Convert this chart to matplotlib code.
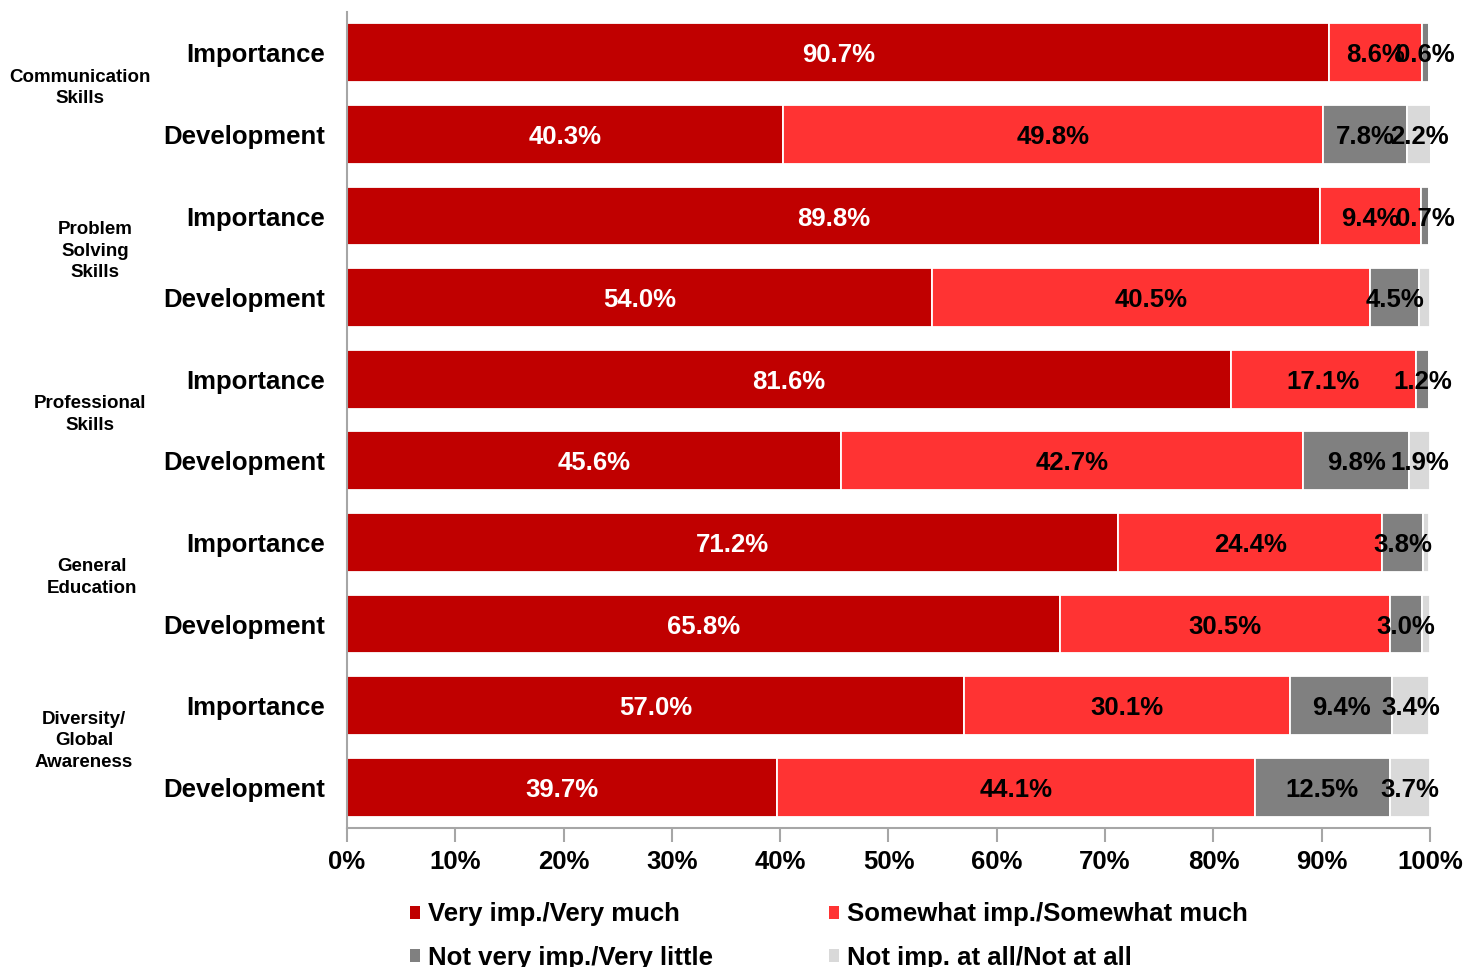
import numpy as np
import matplotlib.pyplot as plt
from matplotlib.patches import Patch
from matplotlib.transforms import blended_transform_factory

plt.rcParams['font.family'] = ['Liberation Sans', 'DejaVu Sans']
plt.rcParams['font.weight'] = 'bold'

groups = ["Communication\nSkills", "Problem\nSolving\nSkills", "Professional\nSkills",
          "General\nEducation", "Diversity/\nGlobal\nAwareness"]
rows = ["Importance", "Development"] * 5

very = [90.7, 40.3, 89.8, 54.0, 81.6, 45.6, 71.2, 65.8, 57.0, 39.7]
somewhat = [8.6, 49.8, 9.4, 40.5, 17.1, 42.7, 24.4, 30.5, 30.1, 44.1]
little = [0.6, 7.8, 0.7, 4.5, 1.2, 9.8, 3.8, 3.0, 9.4, 12.5]
not_at_all = [0.1, 2.2, 0.1, 1.0, 0.1, 1.9, 0.5, 0.7, 3.4, 3.7]

series = [
    ("Very imp./Very much", very, "#C00000", "white"),
    ("Somewhat imp./Somewhat much", somewhat, "#FF3333", "black"),
    ("Not very imp./Very little", little, "#808080", "black"),
    ("Not imp. at all/Not at all", not_at_all, "#D9D9D9", "black"),
]

FS = 18.5

fig = plt.figure(figsize=(14.78, 9.67), dpi=100)
ax = fig.add_axes([0.2348, 0.1437, 0.7327, 0.8439])

y = np.arange(len(rows))
left = np.zeros(len(rows))
for k, (name, vals, color, txt) in enumerate(series):
    vals = np.array(vals)
    ax.barh(y, vals, left=left, height=0.72, color=color,
            edgecolor="white", linewidth=1.3, label=name)
    for yi, l, v in zip(y, left, vals):
        # the last series only carries a label where the slice is wide enough
        if k == 3 and v < 1.5:
            continue
        ax.text(l + v / 2, yi, f"{v:.1f}%", ha="center", va="center_baseline",
                fontsize=FS, fontweight="bold", color=txt)
    left += vals

ax.set_xlim(0, 100)
ax.set_ylim(9.5, -0.5)
ax.set_xticks(np.arange(0, 101, 10))
ax.set_xticklabels([f"{t}%" for t in range(0, 101, 10)], fontsize=FS, fontweight="bold")
ax.set_yticks(y)
ax.set_yticklabels(rows, fontsize=FS, fontweight="bold")
ax.tick_params(axis="y", length=0, pad=16)
ax.tick_params(axis="x", length=10, width=1.5, color="#A6A6A6", pad=6)
for s in ["top", "right"]:
    ax.spines[s].set_visible(False)
for s in ["left", "bottom"]:
    ax.spines[s].set_color("#A6A6A6")
    ax.spines[s].set_linewidth(1.5)

# group names sit to the left of each Importance/Development pair
group_x = [80, 95, 90, 92, 84]
trans = blended_transform_factory(fig.transFigure, ax.transData)
for g, (name, gx) in enumerate(zip(groups, group_x)):
    ax.text(gx / 1478, 2 * g + 0.43, name, transform=trans,
            ha="center", va="center", fontsize=13.5, fontweight="bold", linespacing=1.34)

handles = [Patch(facecolor=c, edgecolor="none") for _, _, c, _ in series]
labels = [n for n, _, _, _ in series]
order = [0, 2, 1, 3]
fig.legend([handles[i] for i in order], [labels[i] for i in order],
           loc="upper left", bbox_to_anchor=(0.2774, 0.0668), ncol=2,
           frameon=False, fontsize=FS, handlelength=0.4, handleheight=0.4,
           handletextpad=0.3, columnspacing=4.5, labelspacing=0.75,
           borderaxespad=0, borderpad=0)

fig.savefig("out.png", dpi=100)
